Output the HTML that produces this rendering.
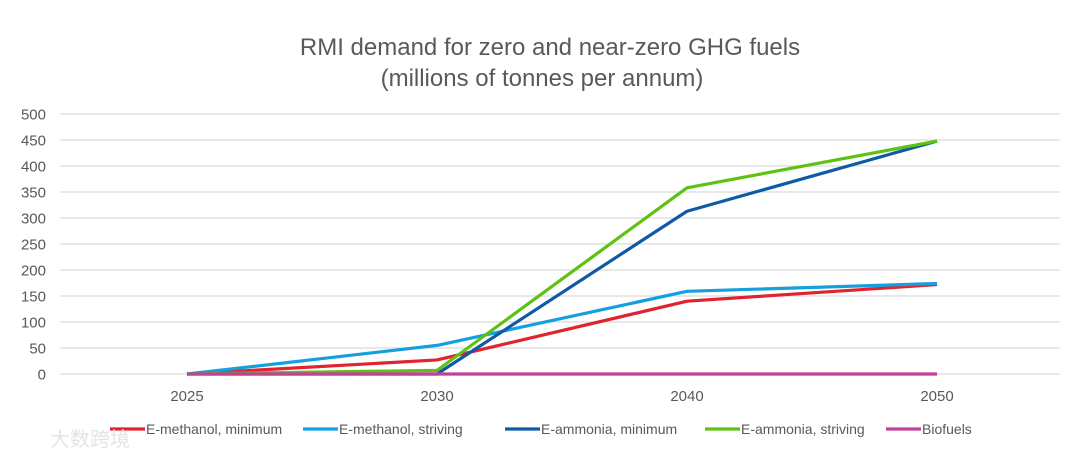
<!DOCTYPE html>
<html><head><meta charset="utf-8"><style>
body{margin:0;background:#fff;width:1080px;height:459px;overflow:hidden;font-family:"Liberation Sans","Noto Sans CJK SC",sans-serif}
</style></head><body>
<svg width="1080" height="459" xmlns="http://www.w3.org/2000/svg" font-family="Liberation Sans, Noto Sans CJK SC, sans-serif">
<text x="550" y="55" text-anchor="middle" font-size="24" fill="#595959">RMI demand for zero and near-zero GHG fuels</text>
<text x="542" y="86" text-anchor="middle" font-size="24" fill="#595959">(millions of tonnes per annum)</text>
<g id="grid"></g><g id="ylab"></g><g id="xlab"></g><g id="lines"></g><g id="legend"></g>
<text x="50" y="446" font-size="20" fill="#e4e4e4">大数跨境</text>
</svg>
<script>
const categories=["2025","2030","2040","2050"];
const yTicks=[0,50,100,150,200,250,300,350,400,450,500];
const seriesNames=["E-methanol, minimum","E-methanol, striving","E-ammonia, minimum","E-ammonia, striving","Biofuels"];
const methanolMin=[0,27,140,172];
const methanolStriving=[0,55,159,174];
const ammoniaMin=[0,0,313,448];
const ammoniaStriving=[0,7,358,448];
const biofuels=[0,0,0,0];
const colors=["#e0232e","#14a0de","#0e5aa7","#5ec212","#c1409a"];
const allSeries=[methanolMin,methanolStriving,ammoniaMin,ammoniaStriving,biofuels];
const NS="http://www.w3.org/2000/svg";
const x=i=>187+i*250;
const y=v=>374-v*0.52;
function mk(t,a,p){const e=document.createElementNS(NS,t);for(const k in a)e.setAttribute(k,a[k]);document.getElementById(p).appendChild(e);return e;}
yTicks.forEach(v=>{
 const l=mk('line',{x1:60,x2:1060,y1:y(v),y2:y(v),stroke:'#e0e0e0','stroke-width':1.5},'grid');
 
 
 const t=mk('text',{x:46,y:y(v)+5.5,'text-anchor':'end','font-size':15,fill:'#595959'},'ylab');t.textContent=v;
 
 
});
categories.forEach((c,i)=>{
 const t=mk('text',{x:x(i),y:401,'text-anchor':'middle','font-size':15,fill:'#595959'},'xlab');t.textContent=c;
 
 
});
allSeries.forEach((s,k)=>{
 const p=mk('polyline',{points:s.map((v,i)=>x(i)+','+y(v)).join(' '),fill:'none',stroke:colors[k],'stroke-width':3.2,'stroke-linejoin':'round'},'lines');
 
 
});
const legX=[110,303,505,705,886];
seriesNames.forEach((n,k)=>{
 const l=mk('line',{x1:legX[k],x2:legX[k]+35,y1:429,y2:429,stroke:colors[k],'stroke-width':3.2},'legend');
 
 
 const t=mk('text',{x:legX[k]+36,y:434,'font-size':14,fill:'#595959'},'legend');t.textContent=n;
 
 
});
</script>
</body></html>
